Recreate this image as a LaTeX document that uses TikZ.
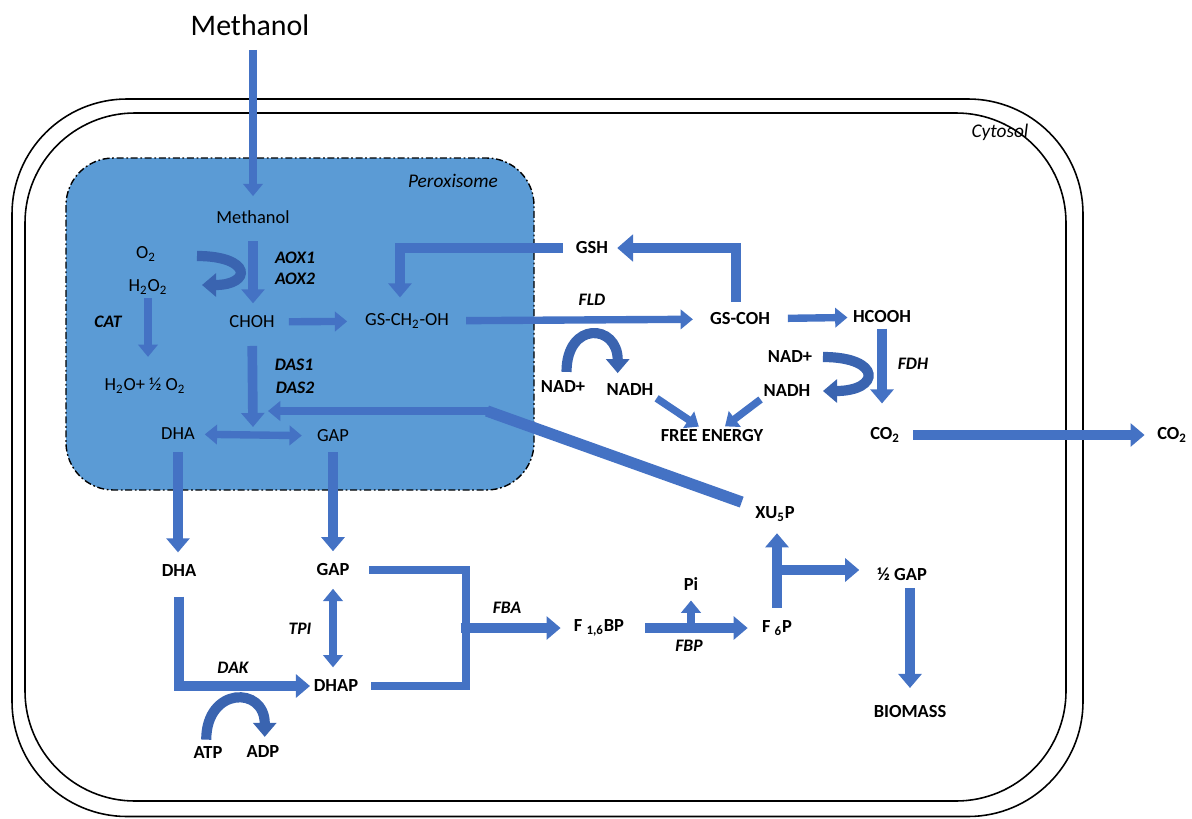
\documentclass[tikz,border=0pt]{standalone}
\usepackage{fontspec}
\setmainfont{Carlito}
\usetikzlibrary{arrows.meta}

\definecolor{arrowblue}{HTML}{4472C4}
\definecolor{cycblue}{HTML}{3A64B0}
\definecolor{peroxfill}{HTML}{5B9BD5}
\newcommand{\lo}[1]{\textsubscript{#1}}

\begin{document}
\begin{tikzpicture}[x=0.02cm, y=-0.02cm,
  every node/.style={inner sep=0pt, font=\fontsize{10.5}{12}\selectfont},
  chem/.style={text=black},
  bchem/.style={font=\fontsize{10.5}{12}\selectfont\bfseries},
  enz/.style={font=\fontsize{10}{12}\selectfont\bfseries\itshape},
  comp/.style={font=\fontsize{11}{13}\selectfont\itshape},
  flow/.style={draw=arrowblue, line width=5.5pt,
    -{Triangle[width=13pt,length=8pt]}},
  thinflow/.style={draw=arrowblue, line width=4.2pt,
    -{Triangle[width=11pt,length=7pt]}},
  bigflow/.style={draw=arrowblue, line width=6.2pt,
    -{Triangle[width=15pt,length=9pt]}},
  twoway/.style={draw=arrowblue, line width=4.2pt,
    {Triangle[width=11pt,length=7pt]}-{Triangle[width=11pt,length=7pt]}},
  link/.style={draw=arrowblue, line width=4pt},
  cyc/.style={draw=cycblue, line width=5.8pt,
    -{Triangle[width=13pt,length=8pt]}}]
  \useasboundingbox (0,0) rectangle (1192,818);

  % cell and peroxisome
  \draw[line width=0.9pt, rounded corners=2.3cm] (12,99) rectangle (1083,816.5);
  \draw[line width=0.9pt, rounded corners=2.2cm] (25,113) rectangle (1066,801);
  \draw[fill=peroxfill, line width=0.8pt, rounded corners=0.95cm,
    dash pattern=on 4pt off 1.5pt on 1pt off 1.5pt] (66,158) rectangle (534,490);
  \node[comp] (perlbl) at (453,181) {Peroxisome};
  \node[comp] (cytlbl) at (1000,132) {Cytosol};

  % peroxisome
  \node[font=\fontsize{17}{20}\selectfont] (meth) at (250,25) {Methanol};
  \node[chem] (meth2) at (253,217) {Methanol};
  \node[chem] (o2) at (146,254) {O\lo{2}};
  \node[chem] (h2o2) at (148,287) {H\lo{2}O\lo{2}};
  \node[enz] (cat) at (108,322) {CAT};
  \node[chem] (choh) at (252,322) {CHOH};
  \node[chem] (gsch) at (407,321) {GS-CH\lo{2}-OH};
  \node[chem] (h2o) at (145,386) {H\lo{2}O+ ½ O\lo{2}};
  \node[enz] (aox1) at (295,258) {AOX1};
  \node[enz] (aox2) at (295,279) {AOX2};
  \node[enz] (das1) at (294,365) {DAS1};
  \node[enz] (das2) at (295,388) {DAS2};
  \node[chem] (dha) at (178,434) {DHA};
  \node[chem] (gap) at (333,436) {GAP};

  % cytosol
  \node[bchem] (gsh) at (592,248) {GSH};
  \node[enz] (fld) at (592,300) {FLD};
  \node[bchem] (gscoh) at (740,319) {GS-COH};
  \node[bchem] (hcooh) at (882,317) {HCOOH};
  \node[bchem] (nadl) at (563,387) {NAD+};
  \node[bchem] (nadhl) at (630,390) {NADH};
  \node[bchem] (nadr) at (790,357) {NAD+};
  \node[bchem] (nadhr) at (787,391) {NADH};
  \node[enz] (fdh) at (913,364) {FDH};
  \node[bchem] (energy) at (712,436) {FREE ENERGY};
  \node[bchem] (co2) at (885,435) {CO\lo{2}};
  \node[bchem] (co2out) at (1172,435) {CO\lo{2}};
  \node[bchem] (dha2) at (179,571) {DHA};
  \node[bchem] (gap2) at (333,570) {GAP};
  \node[enz] (tpi) at (300,629) {TPI};
  \node[enz] (dak) at (233,668) {DAK};
  \node[bchem] (dhap) at (336,686) {DHAP};
  \node[bchem] (atp) at (208,753) {ATP};
  \node[bchem] (adp) at (263,752) {ADP};
  \node[enz] (fba) at (507,608) {FBA};
  \node[bchem] (f16bp) at (599,628) {F \lo{1,6}BP};
  \node[bchem] (pi) at (691,584) {Pi};
  \node[enz] (fbp) at (689,646) {FBP};
  \node[bchem] (f6p) at (777,628) {F \lo{6}P};
  \node[bchem] (xu5p) at (775,514) {XU\lo{5}P};
  \node[bchem] (halfgap) at (902,574) {½ GAP};
  \node[bchem] (biomass) at (910,712) {BIOMASS};

  \coordinate (aoxin) at (197,256);
  \coordinate (aoxout) at (202,285);
  \coordinate (dasj) at (253,427);
  \coordinate (xubend) at (487,411);
  \coordinate (xuend) at (268,411);
  \coordinate (brk) at (466,628);
  \coordinate (pij) at (691,627);
  \coordinate (gapj) at (777,570);

  % methanol oxidation
  \draw[thinflow, shorten <=8pt, shorten >=8pt]
    (meth2.north |- meth.south) -- (meth2.north);
  \draw[flow, shorten <=10pt, shorten >=7pt] (meth2) -- (meth2 |- choh.north);
  \draw[cyc] (aoxin) .. controls +(55,0) and +(50,0) .. (aoxout);
  \draw[thinflow, shorten <=2pt, shorten >=12pt] (h2o2) -- (h2o2 |- h2o.north);
  \draw[thinflow, shorten <=8pt, shorten >=10pt] (choh) -- (gsch);
  \draw[flow, shorten <=10pt] (choh) -- (dasj);
  \draw[twoway, shorten <=5.5pt, shorten >=8.5pt] (dha) -- (gap);
  \draw[link, line width=6.5pt, shorten <=8pt] (xu5p) -- (xubend);
  \draw[thinflow] ([xshift=2pt]xubend) -- (xuend);

  % glutathione cycle
  \draw[bigflow, line join=miter, shorten <=6pt, shorten >=5pt]
    ([xshift=-2.3pt]gscoh.north) |- (gsh);
  \draw[flow, line join=miter, shorten <=7.4pt, shorten >=9pt]
    (gsh) -| ([xshift=-4pt]gsch.north);
  \draw[thinflow, shorten <=9.6pt, shorten >=9.6pt] (gsch) -- (gscoh);
  \draw[thinflow, shorten <=10pt, shorten >=3pt] (gscoh) -- (hcooh);
  \draw[flow, shorten <=3pt, shorten >=13.5pt] (hcooh) -- (hcooh |- co2.north);
  \draw[flow, shorten <=7.5pt, shorten >=7pt] (co2) -- (co2out);
  \draw[cyc, shorten <=5pt, shorten >=6pt]
    ([xshift=2pt]nadl.north) .. controls +(0,-60) and +(0,-60) .. ([xshift=-7pt]nadhl.north);
  \draw[cyc, shorten <=6pt, shorten >=7pt]
    (nadr.east) .. controls +(70,0) and +(70,0) .. (nadhr.east);
  \draw[thinflow, shorten <=2pt, shorten >=3pt] (nadhl.south east) -- ([xshift=-5pt]energy.north);
  \draw[thinflow, shorten <=2pt, shorten >=3pt] (nadhr.south west) -- ([xshift=5pt]energy.north);

  % assimilation
  \draw[flow, shorten <=6.5pt, shorten >=7pt] (dha) -- (dha |- dha2.north);
  \draw[flow, shorten <=5.5pt, shorten >=7pt] (gap) -- (gap |- gap2.north);
  \draw[flow, line join=miter, shorten <=11pt, shorten >=2pt] (dha2) |- (dhap);
  \draw[cyc, shorten <=4pt, shorten >=5pt]
    ([xshift=-1pt]atp.north) .. controls +(0,-60) and +(0,-60) .. ([xshift=1pt]adp.north);
  \draw[twoway, shorten <=7pt, shorten >=7pt] (gap2) -- (gap2 |- dhap.north);
  \draw[link, line join=miter, shorten <=11pt, shorten >=7pt] (gap2) -| (brk) |- (dhap);
  \draw[flow, shorten >=7.4pt] ([xshift=-3pt]brk) -- (f16bp);
  \draw[flow, shorten <=12pt, shorten >=8pt] (f16bp) -- (f6p);
  \draw[thinflow, shorten >=5.5pt] (pij) -- (pi);
  \draw[flow, shorten <=7pt, shorten >=6.5pt] (f6p) -- (f6p |- xu5p.south);
  \draw[flow, shorten >=10pt] (gapj) -- (gapj -| halfgap.west);
  \draw[flow, shorten <=4pt, shorten >=10pt] (biomass |- halfgap.south) -- (biomass);
\end{tikzpicture}
\end{document}
